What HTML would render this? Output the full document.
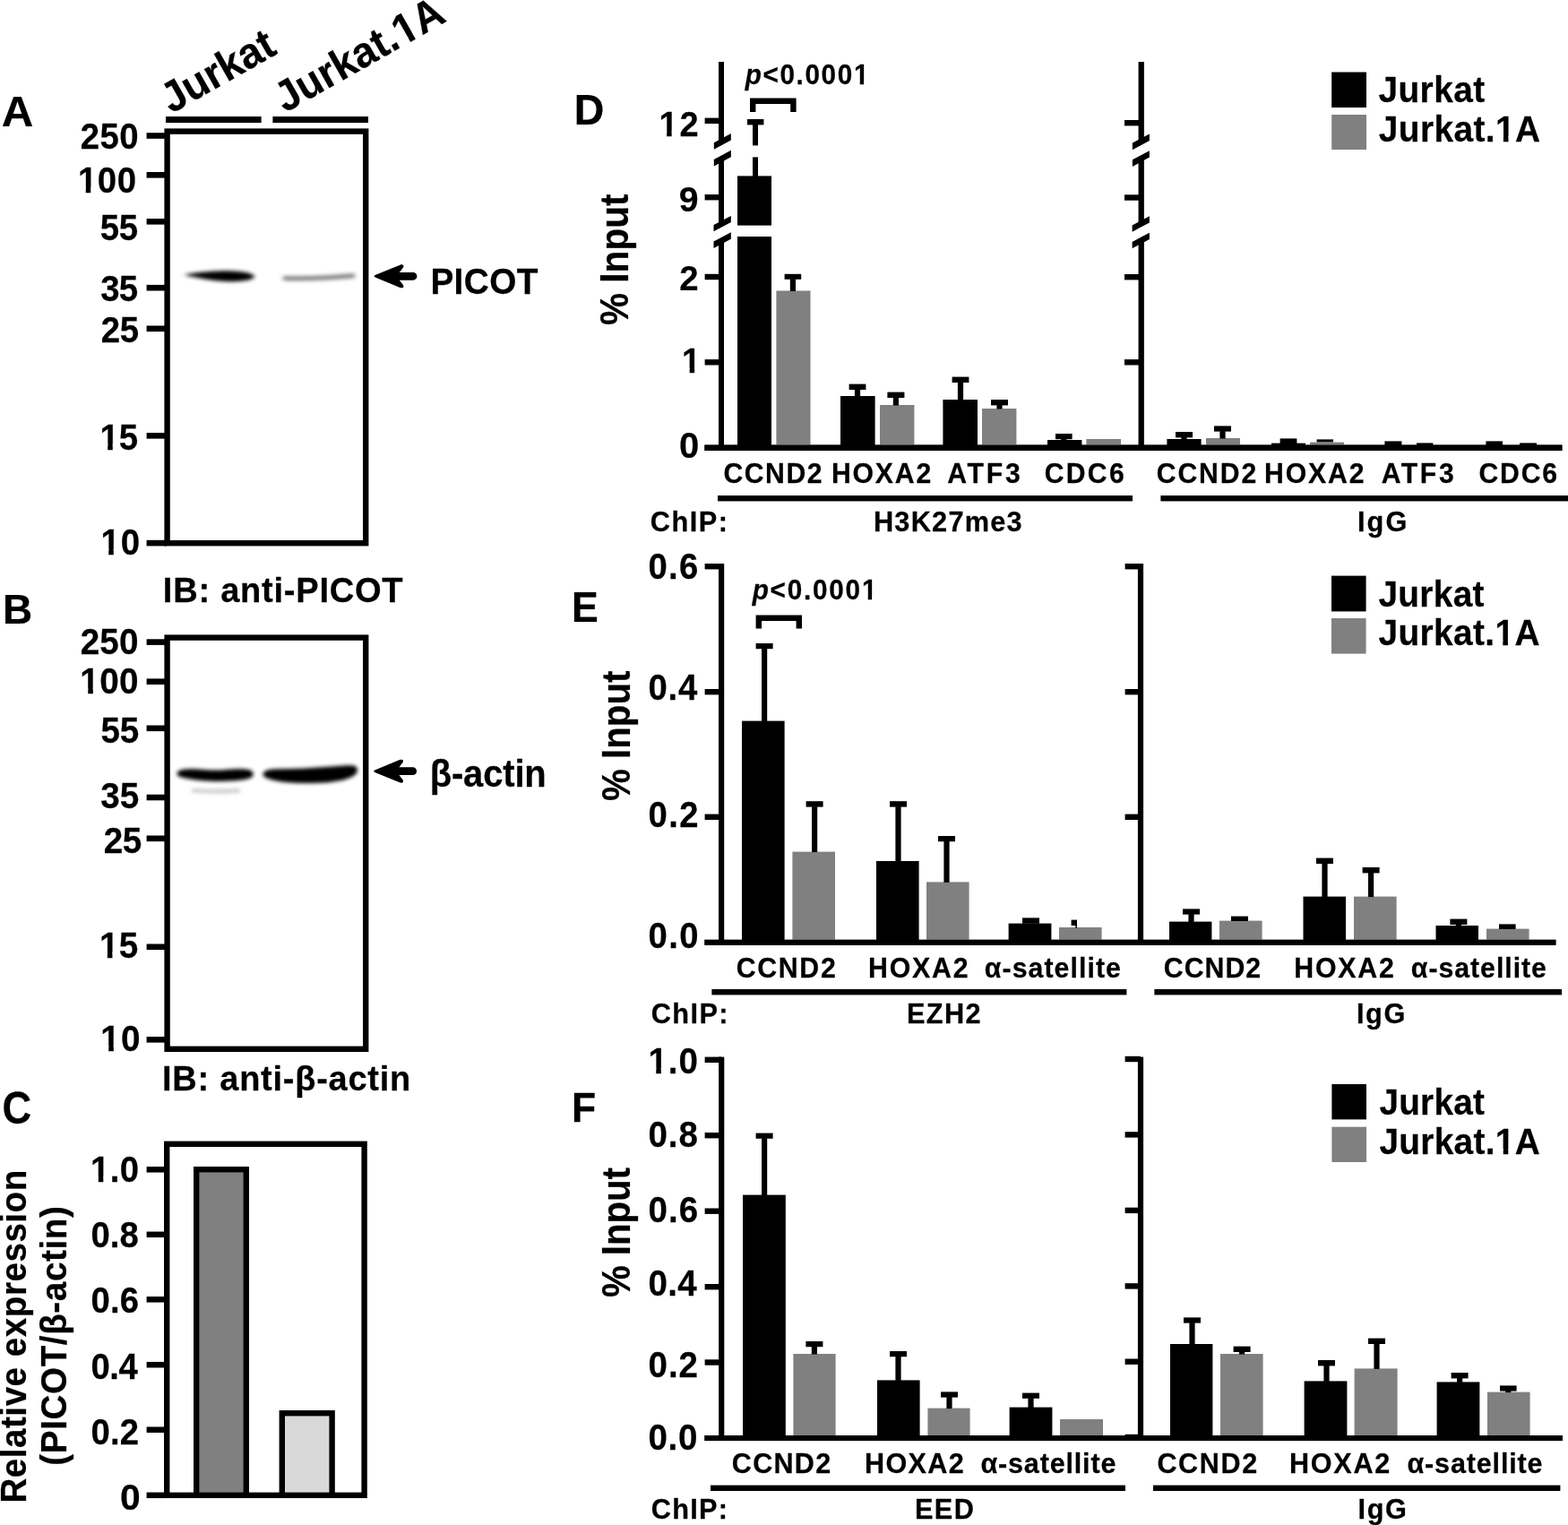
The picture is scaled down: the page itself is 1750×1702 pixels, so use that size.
<!DOCTYPE html>
<html lang="en">
<head>
<meta charset="utf-8">
<title>Figure</title>
<style>
html,body{margin:0;padding:0;background:#fff;}
body{width:1750px;height:1702px;overflow:hidden;}
svg{display:block;}
svg text{font-family:"Liberation Sans", Arial, Helvetica, sans-serif;font-weight:bold;fill:#000;stroke:#000;stroke-width:0.25px;stroke-linejoin:round;}
</style>
</head>
<body>
<svg width="1750" height="1702" viewBox="0 0 1750 1702">
<defs>
<filter id="b2" filterUnits="userSpaceOnUse" x="180" y="280" width="240" height="620"><feGaussianBlur stdDeviation="2.6 1.9"/></filter>
<filter id="b3" filterUnits="userSpaceOnUse" x="180" y="280" width="240" height="620"><feGaussianBlur stdDeviation="2.3 2.0"/></filter>
</defs>
<rect x="0" y="0" width="1750" height="1702" fill="#fff"/>
<g transform="translate(1.77 140.90) scale(1.0108 1)"><text font-size="48.73">A</text></g>
<g transform="translate(191.2 127.2) rotate(-29.6) scale(0.955 1)"><text font-size="48.00">Jurkat</text></g>
<g transform="translate(318.2 126.2) rotate(-29.6) scale(0.955 1)"><text font-size="48.00">Jurkat.1A</text><rect x="159.18" y="-6.60" width="9.23" height="8.10" fill="#fff"/><rect x="175.29" y="-6.60" width="8.61" height="8.10" fill="#fff"/></g>
<rect x="185.00" y="130.00" width="106.60" height="7.00" fill="#000"/>
<rect x="304.40" y="130.00" width="106.60" height="7.00" fill="#000"/>
<rect x="186.60" y="146.60" width="221.60" height="459.60" fill="none" stroke="#000" stroke-width="6.4"/>
<rect x="163.60" y="148.20" width="22.40" height="6.60" fill="#000"/>
<rect x="163.60" y="192.00" width="22.40" height="6.60" fill="#000"/>
<rect x="163.60" y="244.00" width="22.40" height="6.60" fill="#000"/>
<rect x="163.60" y="317.90" width="22.40" height="6.60" fill="#000"/>
<rect x="163.60" y="363.50" width="22.40" height="6.60" fill="#000"/>
<rect x="163.60" y="483.00" width="22.40" height="6.60" fill="#000"/>
<rect x="163.60" y="602.80" width="22.40" height="6.60" fill="#000"/>
<g transform="translate(89.66 165.70) scale(0.9602 1)"><text font-size="40.00" letter-spacing="0.435">250</text></g>
<g transform="translate(86.89 215.00) scale(0.9602 1)"><text font-size="40.00" letter-spacing="0.574">100</text><rect x="1.32" y="-5.78" width="7.88" height="7.28" fill="#fff"/><rect x="14.96" y="-5.78" width="7.36" height="7.28" fill="#fff"/></g>
<g transform="translate(111.85 267.50) scale(0.9602 1)"><text font-size="40.00" letter-spacing="-0.442">55</text></g>
<g transform="translate(112.14 335.50) scale(0.9602 1)"><text font-size="40.00" letter-spacing="-0.742">35</text></g>
<g transform="translate(112.66 382.00) scale(0.9602 1)"><text font-size="40.00" letter-spacing="-0.242">25</text></g>
<g transform="translate(111.39 501.50) scale(0.9602 1)"><text font-size="40.00" letter-spacing="0.037">15</text><rect x="1.32" y="-5.78" width="7.88" height="7.28" fill="#fff"/><rect x="14.96" y="-5.78" width="7.36" height="7.28" fill="#fff"/></g>
<g transform="translate(112.39 618.50) scale(0.9602 1)"><text font-size="40.00" letter-spacing="1.057">10</text><rect x="1.32" y="-5.78" width="7.88" height="7.28" fill="#fff"/><rect x="14.96" y="-5.78" width="7.36" height="7.28" fill="#fff"/></g>
<g filter="url(#b2)"><path d="M205.5 306.8 C212 305 226 303.4 244 302.5 C258 302 272 303 279 305.2 C283.5 306.6 284.8 308.4 283 310.2 C279 313 268 314.2 256 314.2 C244 314 230 312 218 309.6 C212 308.4 207 307.4 205.5 306.8 Z" fill="#000"/></g>
<g filter="url(#b2)" opacity="0.5"><path d="M318 310.6 C345 311.4 370 310 394 307.8" stroke="#000" stroke-width="5" stroke-linecap="round" fill="none"/></g>
<path d="M419.30 306.85 L446.40 295.70 C449.40 294.50 451.50 296.00 449.90 298.70 L445.80 303.95 L461.10 303.95 A4.35 4.35 0 0 1 461.10 312.65 L445.80 312.65 L449.90 317.90 C451.50 320.60 449.40 322.10 446.40 320.90 L419.30 309.75 Q415.80 308.30 419.30 306.85 Z" fill="#000"/>
<g transform="translate(480.38 327.90) scale(0.9602 1)"><text font-size="40.44" letter-spacing="0.363">PICOT</text></g>
<g transform="translate(181.83 672.40) scale(0.9602 1)"><text font-size="39.71" letter-spacing="0.764">IB: anti-PICOT</text></g>
<g transform="translate(2.90 696.40) scale(0.9740 1)"><text font-size="47.13">B</text></g>
<rect x="186.60" y="711.60" width="221.60" height="459.20" fill="none" stroke="#000" stroke-width="6.4"/>
<rect x="163.60" y="713.30" width="22.40" height="6.60" fill="#000"/>
<rect x="163.60" y="757.40" width="22.40" height="6.60" fill="#000"/>
<rect x="163.60" y="809.50" width="22.40" height="6.60" fill="#000"/>
<rect x="163.60" y="886.70" width="22.40" height="6.60" fill="#000"/>
<rect x="163.60" y="932.50" width="22.40" height="6.60" fill="#000"/>
<rect x="163.60" y="1053.50" width="22.40" height="6.60" fill="#000"/>
<rect x="163.60" y="1157.00" width="22.40" height="6.60" fill="#000"/>
<g transform="translate(89.65 730.00) scale(0.9602 1)"><text font-size="40.29" letter-spacing="0.203">250</text></g>
<g transform="translate(89.37 774.20) scale(0.9602 1)"><text font-size="40.29" letter-spacing="0.348">100</text><rect x="1.34" y="-5.81" width="7.92" height="7.31" fill="#fff"/><rect x="15.07" y="-5.81" width="7.40" height="7.31" fill="#fff"/></g>
<g transform="translate(112.44 828.70) scale(0.9602 1)"><text font-size="40.29" letter-spacing="-0.331">55</text></g>
<g transform="translate(112.13 902.00) scale(0.9602 1)"><text font-size="40.29">35</text></g>
<g transform="translate(115.65 951.70) scale(0.9602 1)"><text font-size="40.29" letter-spacing="-0.547">25</text></g>
<g transform="translate(110.97 1068.70) scale(0.9602 1)"><text font-size="40.29" letter-spacing="0.158">15</text><rect x="1.34" y="-5.81" width="7.92" height="7.31" fill="#fff"/><rect x="15.07" y="-5.81" width="7.40" height="7.31" fill="#fff"/></g>
<g transform="translate(112.37 1172.70) scale(0.9602 1)"><text font-size="40.29" letter-spacing="1.287">10</text><rect x="1.34" y="-5.81" width="7.92" height="7.31" fill="#fff"/><rect x="15.07" y="-5.81" width="7.40" height="7.31" fill="#fff"/></g>
<g filter="url(#b3)"><path d="M197.5 863 C199 858.5 208 857.8 222 858.6 C232 859.4 240 860 250 859.2 C262 858 274 857.6 279 859.4 C283 861 284 864.5 281 867.5 C275 871 258 872 240 872 C225 871.8 210 869.8 202.5 867.6 C199 866.5 197 864.8 197.5 863 Z" fill="#000"/></g>
<g filter="url(#b3)"><path d="M293.5 864 C294.5 859.5 300 858.4 312 858.2 C330 858 350 857 370 855.4 C382 854.4 391 853.6 395 854.6 C399.5 856 400 860 397.5 863.5 C393 868.5 382 871.5 368 873 C350 874.8 330 874.2 314 872.4 C304 871 297 868.5 294.5 866.5 C293.5 865.6 293.3 864.8 293.5 864 Z" fill="#000"/></g>
<g filter="url(#b3)" opacity="0.2"><path d="M216 882.2 C235 883.6 250 883.4 266 882.4" stroke="#000" stroke-width="4.6" stroke-linecap="round" fill="none"/></g>
<path d="M418.90 859.25 L446.00 848.10 C449.00 846.90 451.10 848.40 449.50 851.10 L445.40 856.35 L460.70 856.35 A4.35 4.35 0 0 1 460.70 865.05 L445.40 865.05 L449.50 870.30 C451.10 873.00 449.00 874.50 446.00 873.30 L418.90 862.15 Q415.40 860.70 418.90 859.25 Z" fill="#000"/>
<g transform="translate(479.70 877.60) scale(0.9602 1)"><text font-size="41.60" letter-spacing="-0.143">β-actin</text></g>
<g transform="translate(181.04 1217.00) scale(0.9602 1)"><text font-size="39.56" letter-spacing="0.793">IB: anti-β-actin</text></g>
<g transform="translate(2.59 1253.60) scale(0.8979 1)"><text font-size="50.33">C</text></g>
<rect x="186.20" y="1276.80" width="220.40" height="392.00" fill="#fff" stroke="#000" stroke-width="6.4"/>
<rect x="219.20" y="1305.20" width="55.60" height="363.60" fill="#808080" stroke="#000" stroke-width="6.4"/>
<rect x="314.80" y="1577.20" width="55.80" height="91.60" fill="#d9d9d9" stroke="#000" stroke-width="6.4"/>
<rect x="163.60" y="1302.05" width="21.40" height="6.50" fill="#000"/>
<g transform="translate(101.00 1319.00) scale(0.9602 1)"><text font-size="39.85" letter-spacing="0.490">1.0</text><rect x="1.31" y="-5.77" width="7.85" height="7.27" fill="#fff"/><rect x="14.91" y="-5.77" width="7.33" height="7.27" fill="#fff"/></g>
<rect x="163.60" y="1374.55" width="21.40" height="6.50" fill="#000"/>
<g transform="translate(101.47 1392.20) scale(0.9602 1)"><text font-size="39.85" letter-spacing="0.045">0.8</text></g>
<rect x="163.60" y="1447.05" width="21.40" height="6.50" fill="#000"/>
<g transform="translate(101.47 1465.00) scale(0.9602 1)"><text font-size="39.85" letter-spacing="0.144">0.6</text></g>
<rect x="163.60" y="1519.95" width="21.40" height="6.50" fill="#000"/>
<g transform="translate(101.47 1538.70) scale(0.9602 1)"><text font-size="39.85" letter-spacing="-0.453">0.4</text></g>
<rect x="163.60" y="1592.45" width="21.40" height="6.50" fill="#000"/>
<g transform="translate(101.47 1611.80) scale(0.9602 1)"><text font-size="39.85" letter-spacing="0.244">0.2</text></g>
<rect x="163.60" y="1665.55" width="21.40" height="6.50" fill="#000"/>
<g transform="translate(133.97 1685.00) scale(1.0248 1)"><text font-size="39.85">0</text></g>
<g transform="translate(29.00 1677.60) rotate(-90) scale(0.9602 1)"><text font-size="40.15" letter-spacing="0.570">Relative expression</text></g>
<g transform="translate(74.20 1635.63) rotate(-90) scale(0.9602 1)"><text font-size="40.29" letter-spacing="0.597">(PICOT/β-actin)</text></g>
<g transform="translate(640.66 138.90) scale(0.9607 1)"><text font-size="48.44">D</text></g>
<g transform="translate(701.30 363.01) rotate(-90) scale(0.9060 1)"><text font-size="44.80">% Input</text></g>
<rect x="802.00" y="69.00" width="6.00" height="89.00" fill="#000"/>
<rect x="1270.55" y="69.00" width="6.30" height="89.00" fill="#000"/>
<rect x="802.00" y="176.00" width="6.00" height="74.00" fill="#000"/>
<rect x="1270.55" y="176.00" width="6.30" height="74.00" fill="#000"/>
<rect x="802.00" y="268.00" width="6.00" height="235.00" fill="#000"/>
<rect x="1270.55" y="268.00" width="6.30" height="235.00" fill="#000"/>
<rect x="786.40" y="496.60" width="957.00" height="6.40" fill="#000"/>
<rect x="786.60" y="131.60" width="18.40" height="6.40" fill="#000"/>
<rect x="786.60" y="217.00" width="18.40" height="6.40" fill="#000"/>
<rect x="786.60" y="305.80" width="18.40" height="6.40" fill="#000"/>
<rect x="786.60" y="401.10" width="18.40" height="6.40" fill="#000"/>
<rect x="1255.00" y="134.00" width="18.70" height="6.40" fill="#000"/>
<rect x="1255.00" y="217.30" width="18.70" height="6.40" fill="#000"/>
<rect x="1255.00" y="306.00" width="18.70" height="6.40" fill="#000"/>
<rect x="1255.00" y="401.10" width="18.70" height="6.40" fill="#000"/>
<g transform="translate(735.42 152.20) scale(0.9602 1)"><text font-size="39.56" letter-spacing="2.015">12</text><rect x="1.29" y="-5.74" width="7.80" height="7.24" fill="#fff"/><rect x="14.80" y="-5.74" width="7.29" height="7.24" fill="#fff"/></g>
<g transform="translate(757.63 235.70) scale(0.9902 1)"><text font-size="39.56">9</text></g>
<g transform="translate(758.26 323.60) scale(0.9761 1)"><text font-size="39.27">2</text></g>
<g transform="translate(761.01 416.40) scale(0.9602 1)"><text font-size="39.27">1</text><rect x="1.27" y="-5.71" width="7.75" height="7.21" fill="#fff"/><rect x="14.70" y="-5.71" width="7.24" height="7.21" fill="#fff"/></g>
<g transform="translate(758.00 510.50) scale(0.9857 1)"><text font-size="40.58">0</text></g>
<polygon points="796.80,159.20 815.80,149.00 815.80,156.60 796.80,166.80" fill="#000"/>
<polygon points="796.80,177.90 815.80,167.80 815.80,175.20 796.80,185.50" fill="#000"/>
<polygon points="796.50,251.00 815.80,240.90 815.80,248.00 796.50,258.30" fill="#000"/>
<polygon points="796.50,269.50 815.80,259.30 815.80,266.70 796.50,276.90" fill="#000"/>
<polygon points="1263.90,159.60 1282.90,149.40 1282.90,157.00 1263.90,167.20" fill="#000"/>
<polygon points="1263.90,178.30 1282.90,168.20 1282.90,175.60 1263.90,185.90" fill="#000"/>
<polygon points="1263.60,251.40 1282.90,241.30 1282.90,248.40 1263.60,258.70" fill="#000"/>
<polygon points="1263.60,269.90 1282.90,259.70 1282.90,267.10 1263.60,277.30" fill="#000"/>
<rect x="823.00" y="196.40" width="38.00" height="301.10" fill="#000"/>
<rect x="820.00" y="251.60" width="44.00" height="12.40" fill="#fff"/>
<rect x="840.00" y="139.00" width="6.00" height="23.40" fill="#000"/>
<rect x="840.00" y="175.40" width="6.00" height="21.60" fill="#000"/>
<rect x="834.00" y="133.00" width="18.40" height="6.40" fill="#000"/>
<rect x="866.40" y="324.50" width="38.10" height="173.00" fill="#808080"/>
<rect x="875.60" y="305.80" width="18.60" height="6.00" fill="#000"/>
<rect x="881.80" y="311.30" width="6.20" height="13.70" fill="#000"/>
<rect x="938.00" y="442.00" width="38.60" height="55.50" fill="#000"/>
<rect x="947.60" y="428.60" width="18.80" height="6.40" fill="#000"/>
<rect x="953.90" y="434.50" width="6.20" height="8.00" fill="#000"/>
<rect x="982.00" y="452.00" width="38.40" height="45.50" fill="#808080"/>
<rect x="990.40" y="437.60" width="19.00" height="6.40" fill="#000"/>
<rect x="996.80" y="443.50" width="6.20" height="9.00" fill="#000"/>
<rect x="1052.40" y="446.00" width="38.60" height="51.50" fill="#000"/>
<rect x="1062.60" y="420.60" width="18.80" height="6.40" fill="#000"/>
<rect x="1068.90" y="426.50" width="6.20" height="20.00" fill="#000"/>
<rect x="1096.00" y="456.00" width="38.40" height="41.50" fill="#808080"/>
<rect x="1106.00" y="446.00" width="19.00" height="6.40" fill="#000"/>
<rect x="1112.40" y="451.90" width="6.20" height="4.60" fill="#000"/>
<rect x="1169.00" y="491.00" width="38.40" height="6.50" fill="#000"/>
<rect x="1178.00" y="484.00" width="18.60" height="6.20" fill="#000"/>
<rect x="1184.20" y="489.70" width="6.20" height="1.80" fill="#000"/>
<rect x="1212.40" y="490.00" width="38.60" height="7.50" fill="#808080"/>
<rect x="1302.40" y="490.00" width="38.20" height="7.50" fill="#000"/>
<rect x="1312.00" y="482.00" width="19.00" height="6.40" fill="#000"/>
<rect x="1318.40" y="487.90" width="6.20" height="2.60" fill="#000"/>
<rect x="1346.00" y="489.00" width="38.00" height="8.50" fill="#808080"/>
<rect x="1355.00" y="475.40" width="19.00" height="6.20" fill="#000"/>
<rect x="1361.40" y="481.10" width="6.20" height="8.40" fill="#000"/>
<rect x="1419.00" y="494.60" width="38.00" height="2.90" fill="#000"/>
<rect x="1428.60" y="489.40" width="18.80" height="5.60" fill="#000"/>
<rect x="1462.00" y="493.60" width="38.00" height="3.90" fill="#808080"/>
<rect x="1469.60" y="490.40" width="18.40" height="3.00" fill="#000"/>
<rect x="1545.40" y="492.40" width="19.00" height="4.60" fill="#000"/>
<rect x="1581.00" y="494.40" width="18.40" height="2.60" fill="#000"/>
<rect x="1658.40" y="492.40" width="18.60" height="4.60" fill="#000"/>
<rect x="1696.00" y="494.40" width="19.00" height="2.60" fill="#000"/>
<rect x="786.40" y="496.60" width="957.00" height="6.40" fill="#000"/>
<g transform="translate(831.67 94.30) scale(0.9602 1)"><text font-size="30.98" letter-spacing="1.681"><tspan font-style="italic">p</tspan>&lt;0.0001</text><rect x="127.02" y="-4.86" width="6.34" height="6.36" fill="#fff"/><rect x="137.89" y="-4.86" width="5.94" height="6.36" fill="#fff"/></g>
<path d="M840.2 125 L840.2 112.8 L885.4 112.8 L885.4 125" stroke="#000" stroke-width="6.4" fill="none"/>
<g transform="translate(807.39 539.30) scale(0.9602 1)"><text font-size="31.42" letter-spacing="1.637">CCND2</text></g>
<g transform="translate(927.96 539.30) scale(0.9602 1)"><text font-size="31.42" letter-spacing="1.905">HOXA2</text></g>
<g transform="translate(1057.25 539.30) scale(0.9602 1)"><text font-size="31.42" letter-spacing="2.865">ATF3</text></g>
<g transform="translate(1165.79 539.30) scale(0.9602 1)"><text font-size="31.42" letter-spacing="2.337">CDC6</text></g>
<g transform="translate(1290.79 539.30) scale(0.9602 1)"><text font-size="31.42" letter-spacing="1.949">CCND2</text></g>
<g transform="translate(1410.96 539.30) scale(0.9602 1)"><text font-size="31.42" letter-spacing="2.009">HOXA2</text></g>
<g transform="translate(1541.65 539.30) scale(0.9602 1)"><text font-size="31.42" letter-spacing="2.726">ATF3</text></g>
<g transform="translate(1650.39 539.30) scale(0.9602 1)"><text font-size="31.42" letter-spacing="1.920">CDC6</text></g>
<rect x="801.00" y="553.00" width="463.00" height="6.40" fill="#000"/>
<rect x="1295.40" y="553.00" width="454.60" height="6.40" fill="#000"/>
<g transform="translate(725.77 593.00) scale(0.9602 1)"><text font-size="32.00" letter-spacing="1.550">ChIP:</text></g>
<g transform="translate(974.93 593.00) scale(0.9602 1)"><text font-size="32.00" letter-spacing="1.289">H3K27me3</text></g>
<g transform="translate(1514.93 593.00) scale(0.9602 1)"><text font-size="32.00" letter-spacing="2.205">IgG</text></g>
<rect x="1486.20" y="80.50" width="38.80" height="39.50" fill="#000"/>
<rect x="1486.20" y="128.00" width="38.80" height="39.00" fill="#808080"/>
<g transform="translate(1538.42 114.30) scale(0.9602 1)"><text font-size="40.44" letter-spacing="0.456">Jurkat</text></g>
<g transform="translate(1538.82 158.10) scale(0.9602 1)"><text font-size="40.44" letter-spacing="0.429">Jurkat.1A</text><rect x="136.89" y="-5.82" width="7.95" height="7.32" fill="#fff"/><rect x="150.67" y="-5.82" width="7.42" height="7.32" fill="#fff"/></g>
<g transform="translate(637.99 694.40) scale(0.9357 1)"><text font-size="47.71">E</text></g>
<g transform="translate(703.30 894.01) rotate(-90) scale(0.8939 1)"><text font-size="45.09">% Input</text></g>
<rect x="802.00" y="629.00" width="6.20" height="425.80" fill="#000"/>
<rect x="1269.90" y="629.00" width="6.20" height="425.80" fill="#000"/>
<rect x="786.40" y="1048.80" width="950.00" height="6.00" fill="#000"/>
<rect x="786.60" y="629.00" width="18.50" height="6.40" fill="#000"/>
<rect x="1255.60" y="629.00" width="17.40" height="6.40" fill="#000"/>
<rect x="786.60" y="769.00" width="18.50" height="6.40" fill="#000"/>
<rect x="1255.60" y="769.00" width="17.40" height="6.40" fill="#000"/>
<rect x="786.60" y="908.60" width="18.50" height="6.40" fill="#000"/>
<rect x="1255.60" y="908.60" width="17.40" height="6.40" fill="#000"/>
<g transform="translate(723.47 646.40) scale(0.9602 1)"><text font-size="39.85" letter-spacing="1.394">0.6</text></g>
<g transform="translate(723.47 780.70) scale(0.9602 1)"><text font-size="39.85" letter-spacing="0.796">0.4</text></g>
<g transform="translate(723.47 922.70) scale(0.9602 1)"><text font-size="39.85" letter-spacing="1.494">0.2</text></g>
<g transform="translate(723.47 1058.40) scale(0.9602 1)"><text font-size="39.85" letter-spacing="1.494">0.0</text></g>
<rect x="828.00" y="804.60" width="47.60" height="244.40" fill="#000"/>
<rect x="843.60" y="718.00" width="19.00" height="6.20" fill="#000"/>
<rect x="850.00" y="723.70" width="6.20" height="81.40" fill="#000"/>
<rect x="884.40" y="950.60" width="47.60" height="98.40" fill="#808080"/>
<rect x="899.60" y="894.20" width="19.00" height="6.40" fill="#000"/>
<rect x="906.00" y="900.10" width="6.20" height="51.00" fill="#000"/>
<rect x="978.00" y="961.00" width="47.60" height="88.00" fill="#000"/>
<rect x="993.00" y="894.20" width="19.00" height="6.40" fill="#000"/>
<rect x="999.40" y="900.10" width="6.20" height="61.40" fill="#000"/>
<rect x="1034.00" y="984.40" width="47.60" height="64.60" fill="#808080"/>
<rect x="1047.00" y="933.00" width="19.00" height="6.20" fill="#000"/>
<rect x="1053.40" y="938.70" width="6.20" height="46.20" fill="#000"/>
<rect x="1125.60" y="1030.60" width="47.80" height="18.40" fill="#000"/>
<rect x="1141.00" y="1024.40" width="19.00" height="6.40" fill="#000"/>
<rect x="1182.00" y="1035.00" width="47.60" height="14.00" fill="#808080"/>
<rect x="1195.60" y="1026.60" width="6.40" height="6.40" fill="#000"/>
<rect x="1200.40" y="1032.00" width="1.60" height="4.00" fill="#000"/>
<rect x="1305.00" y="1028.60" width="47.40" height="20.40" fill="#000"/>
<rect x="1320.00" y="1014.40" width="19.00" height="6.20" fill="#000"/>
<rect x="1326.40" y="1020.10" width="6.20" height="9.00" fill="#000"/>
<rect x="1361.00" y="1027.60" width="47.60" height="21.40" fill="#808080"/>
<rect x="1374.00" y="1022.60" width="19.00" height="5.40" fill="#000"/>
<rect x="1454.50" y="1000.60" width="47.50" height="48.40" fill="#000"/>
<rect x="1469.00" y="957.60" width="19.00" height="6.40" fill="#000"/>
<rect x="1475.40" y="963.50" width="6.20" height="37.60" fill="#000"/>
<rect x="1511.00" y="1000.60" width="47.60" height="48.40" fill="#808080"/>
<rect x="1520.60" y="968.00" width="19.00" height="6.40" fill="#000"/>
<rect x="1527.00" y="973.90" width="6.20" height="27.20" fill="#000"/>
<rect x="1602.50" y="1033.00" width="47.50" height="16.00" fill="#000"/>
<rect x="1618.40" y="1025.60" width="19.00" height="6.40" fill="#000"/>
<rect x="1624.80" y="1031.50" width="6.20" height="2.00" fill="#000"/>
<rect x="1659.00" y="1036.60" width="47.60" height="12.40" fill="#808080"/>
<rect x="1673.00" y="1031.40" width="18.60" height="5.60" fill="#000"/>
<rect x="786.40" y="1048.80" width="950.00" height="6.00" fill="#000"/>
<g transform="translate(839.67 669.30) scale(0.9602 1)"><text font-size="30.98" letter-spacing="1.830"><tspan font-style="italic">p</tspan>&lt;0.0001</text><rect x="128.06" y="-4.86" width="6.34" height="6.36" fill="#fff"/><rect x="138.92" y="-4.86" width="5.94" height="6.36" fill="#fff"/></g>
<path d="M846.8 701.6 L846.8 689.8 L891.8 689.8 L891.8 701.6" stroke="#000" stroke-width="6.4" fill="none"/>
<g transform="translate(821.79 1091.20) scale(0.9602 1)"><text font-size="31.56" letter-spacing="1.723">CCND2</text></g>
<g transform="translate(968.95 1091.20) scale(0.9602 1)"><text font-size="31.56" letter-spacing="1.888">HOXA2</text></g>
<g transform="translate(1098.79 1091.20) scale(0.9602 1)"><text font-size="31.56" letter-spacing="1.110">α-satellite</text></g>
<g transform="translate(1298.79 1091.20) scale(0.9602 1)"><text font-size="31.56" letter-spacing="1.046">CCND2</text></g>
<g transform="translate(1444.35 1091.20) scale(0.9602 1)"><text font-size="31.56" letter-spacing="1.835">HOXA2</text></g>
<g transform="translate(1574.79 1091.20) scale(0.9602 1)"><text font-size="31.56" letter-spacing="1.006">α-satellite</text></g>
<rect x="794.40" y="1104.00" width="463.00" height="6.40" fill="#000"/>
<rect x="1288.40" y="1104.00" width="454.60" height="6.40" fill="#000"/>
<g transform="translate(726.77 1142.00) scale(0.9602 1)"><text font-size="32.00" letter-spacing="1.446">ChIP:</text></g>
<g transform="translate(1011.93 1142.00) scale(0.9602 1)"><text font-size="32.00" letter-spacing="1.457">EZH2</text></g>
<g transform="translate(1513.93 1142.00) scale(0.9602 1)"><text font-size="32.00" letter-spacing="1.685">IgG</text></g>
<rect x="1486.00" y="642.60" width="38.60" height="39.80" fill="#000"/>
<rect x="1486.00" y="690.00" width="38.60" height="39.60" fill="#808080"/>
<g transform="translate(1538.42 676.50) scale(0.9602 1)"><text font-size="40.44" letter-spacing="0.331">Jurkat</text></g>
<g transform="translate(1538.42 720.30) scale(0.9602 1)"><text font-size="40.44" letter-spacing="0.403">Jurkat.1A</text><rect x="136.72" y="-5.82" width="7.95" height="7.32" fill="#fff"/><rect x="150.50" y="-5.82" width="7.42" height="7.32" fill="#fff"/></g>
<g transform="translate(637.99 1252.00) scale(0.9449 1)"><text font-size="47.13">F</text></g>
<g transform="translate(703.30 1448.00) rotate(-90) scale(0.8902 1)"><text font-size="45.09">% Input</text></g>
<rect x="802.10" y="1179.60" width="6.20" height="428.40" fill="#000"/>
<rect x="1269.90" y="1179.60" width="6.20" height="428.40" fill="#000"/>
<rect x="786.40" y="1602.00" width="957.60" height="6.00" fill="#000"/>
<rect x="786.60" y="1179.60" width="18.60" height="6.40" fill="#000"/>
<rect x="1255.60" y="1178.80" width="17.40" height="6.40" fill="#000"/>
<rect x="786.60" y="1264.00" width="18.60" height="6.40" fill="#000"/>
<rect x="1255.60" y="1263.20" width="17.40" height="6.40" fill="#000"/>
<rect x="786.60" y="1348.50" width="18.60" height="6.40" fill="#000"/>
<rect x="1255.60" y="1347.70" width="17.40" height="6.40" fill="#000"/>
<rect x="786.60" y="1433.00" width="18.60" height="6.40" fill="#000"/>
<rect x="1255.60" y="1432.20" width="17.40" height="6.40" fill="#000"/>
<rect x="786.60" y="1517.30" width="18.60" height="6.40" fill="#000"/>
<rect x="1255.60" y="1516.50" width="17.40" height="6.40" fill="#000"/>
<rect x="1255.60" y="1600.80" width="17.40" height="6.40" fill="#000"/>
<g transform="translate(723.38 1197.60) scale(0.9602 1)"><text font-size="40.15" letter-spacing="1.084">1.0</text><rect x="1.33" y="-5.79" width="7.90" height="7.29" fill="#fff"/><rect x="15.02" y="-5.79" width="7.38" height="7.29" fill="#fff"/></g>
<g transform="translate(723.46 1279.60) scale(0.9602 1)"><text font-size="40.15" letter-spacing="0.998">0.8</text></g>
<g transform="translate(723.46 1364.10) scale(0.9602 1)"><text font-size="40.15" letter-spacing="1.099">0.6</text></g>
<g transform="translate(723.46 1445.90) scale(0.9602 1)"><text font-size="40.15" letter-spacing="0.340">0.4</text></g>
<g transform="translate(723.46 1537.20) scale(0.9602 1)"><text font-size="40.15" letter-spacing="1.043">0.2</text></g>
<g transform="translate(723.46 1617.90) scale(0.9602 1)"><text font-size="40.15" letter-spacing="0.678">0.0</text></g>
<rect x="829.00" y="1333.60" width="47.80" height="269.40" fill="#000"/>
<rect x="843.60" y="1264.60" width="19.00" height="6.20" fill="#000"/>
<rect x="850.00" y="1270.30" width="6.20" height="63.80" fill="#000"/>
<rect x="885.40" y="1511.00" width="47.20" height="92.00" fill="#808080"/>
<rect x="899.40" y="1497.00" width="19.00" height="6.20" fill="#000"/>
<rect x="905.80" y="1502.70" width="6.20" height="8.80" fill="#000"/>
<rect x="979.00" y="1540.40" width="47.60" height="62.60" fill="#000"/>
<rect x="993.00" y="1508.00" width="19.00" height="6.20" fill="#000"/>
<rect x="999.40" y="1513.70" width="6.20" height="27.20" fill="#000"/>
<rect x="1035.40" y="1571.60" width="47.20" height="31.40" fill="#808080"/>
<rect x="1050.00" y="1553.40" width="19.00" height="6.20" fill="#000"/>
<rect x="1056.40" y="1559.10" width="6.20" height="13.00" fill="#000"/>
<rect x="1126.60" y="1570.60" width="47.80" height="32.40" fill="#000"/>
<rect x="1141.00" y="1554.60" width="19.00" height="6.20" fill="#000"/>
<rect x="1147.40" y="1560.30" width="6.20" height="10.80" fill="#000"/>
<rect x="1183.00" y="1584.00" width="48.00" height="19.00" fill="#808080"/>
<rect x="1306.00" y="1500.00" width="47.40" height="103.00" fill="#000"/>
<rect x="1321.00" y="1470.40" width="19.00" height="6.20" fill="#000"/>
<rect x="1327.40" y="1476.10" width="6.20" height="24.40" fill="#000"/>
<rect x="1362.00" y="1511.00" width="47.60" height="92.00" fill="#808080"/>
<rect x="1376.60" y="1502.60" width="19.00" height="6.40" fill="#000"/>
<rect x="1383.00" y="1508.50" width="6.20" height="3.00" fill="#000"/>
<rect x="1455.60" y="1541.40" width="47.80" height="61.60" fill="#000"/>
<rect x="1471.00" y="1518.00" width="19.00" height="6.40" fill="#000"/>
<rect x="1477.40" y="1523.90" width="6.20" height="18.00" fill="#000"/>
<rect x="1511.60" y="1527.40" width="48.00" height="75.60" fill="#808080"/>
<rect x="1527.00" y="1493.60" width="19.00" height="6.40" fill="#000"/>
<rect x="1533.40" y="1499.50" width="6.20" height="28.40" fill="#000"/>
<rect x="1603.60" y="1542.40" width="47.80" height="60.60" fill="#000"/>
<rect x="1619.60" y="1532.00" width="19.00" height="6.40" fill="#000"/>
<rect x="1626.00" y="1537.90" width="6.20" height="5.00" fill="#000"/>
<rect x="1660.00" y="1553.60" width="47.60" height="49.40" fill="#808080"/>
<rect x="1674.00" y="1546.40" width="18.60" height="6.20" fill="#000"/>
<rect x="1680.20" y="1552.10" width="6.20" height="2.00" fill="#000"/>
<rect x="786.40" y="1602.00" width="957.60" height="6.00" fill="#000"/>
<g transform="translate(816.78 1643.80) scale(0.9602 1)"><text font-size="31.85" letter-spacing="1.322">CCND2</text></g>
<g transform="translate(964.94 1643.80) scale(0.9602 1)"><text font-size="31.85" letter-spacing="1.436">HOXA2</text></g>
<g transform="translate(1094.38 1643.80) scale(0.9602 1)"><text font-size="31.85" letter-spacing="0.852">α-satellite</text></g>
<g transform="translate(1291.38 1643.80) scale(0.9602 1)"><text font-size="31.85" letter-spacing="1.686">CCND2</text></g>
<g transform="translate(1438.94 1643.80) scale(0.9602 1)"><text font-size="31.85" letter-spacing="1.801">HOXA2</text></g>
<g transform="translate(1570.38 1643.80) scale(0.9602 1)"><text font-size="31.85" letter-spacing="0.873">α-satellite</text></g>
<rect x="793.00" y="1657.60" width="463.00" height="6.40" fill="#000"/>
<rect x="1287.00" y="1657.60" width="454.40" height="6.40" fill="#000"/>
<g transform="translate(726.77 1695.00) scale(0.9602 1)"><text font-size="32.00" letter-spacing="1.289">ChIP:</text></g>
<g transform="translate(1020.93 1695.00) scale(0.9602 1)"><text font-size="32.00" letter-spacing="1.438">EED</text></g>
<g transform="translate(1515.53 1695.00) scale(0.9602 1)"><text font-size="32.00" letter-spacing="1.685">IgG</text></g>
<rect x="1486.40" y="1210.00" width="38.60" height="39.40" fill="#000"/>
<rect x="1486.40" y="1257.70" width="38.60" height="39.30" fill="#808080"/>
<g transform="translate(1539.42 1244.00) scale(0.9602 1)"><text font-size="40.29" letter-spacing="0.271">Jurkat</text></g>
<g transform="translate(1539.42 1287.90) scale(0.9602 1)"><text font-size="40.44" letter-spacing="0.312">Jurkat.1A</text><rect x="136.08" y="-5.82" width="7.95" height="7.32" fill="#fff"/><rect x="149.86" y="-5.82" width="7.42" height="7.32" fill="#fff"/></g>
</svg>
</body>
</html>
